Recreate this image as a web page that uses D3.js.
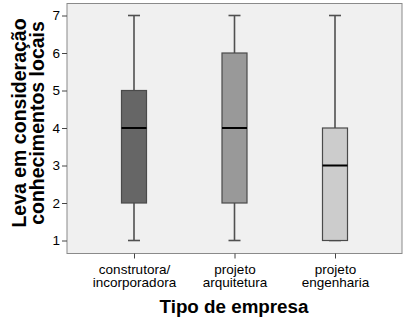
<!DOCTYPE html>
<html>
<head>
<meta charset="utf-8">
<script src="https://cdn.jsdelivr.net/npm/d3@7"></script>
<style>
  html, body { margin: 0; padding: 0; background: #fff; }
  svg { display: block; font-family: Arial, "Liberation Sans", sans-serif; }
</style>
</head>
<body>
<svg id="chart" width="407" height="325"></svg>
<script>
// Company types and their five-number summaries (1–7 scale)
const categories = ["construtora/\nincorporadora", "projeto\narquitetura", "projeto\nengenharia"];
const whiskerLow  = [1, 1, 1];
const quartile1   = [2, 2, 1];
const medians     = [4, 4, 3];
const quartile3   = [5, 6, 4];
const whiskerHigh = [7, 7, 7];
const boxFills    = ["#666666", "#999999", "#cccccc"];
const yTicks      = [1, 2, 3, 4, 5, 6, 7];

const svg = d3.select("#chart");
const frame = { left: 67, right: 402, top: 3.5, bottom: 253.5 };

const x = d3.scalePoint()
  .domain(categories)
  .range([134, 335]);

const y = d3.scaleLinear()
  .domain([1, 7])
  .range([240.5, 15.5]);

// Plot background
svg.append("rect")
  .attr("x", frame.left).attr("y", frame.top)
  .attr("width", frame.right - frame.left)
  .attr("height", frame.bottom - frame.top)
  .attr("fill", "#f0f0f0")
  .attr("stroke", "#8a8a8a")
  .attr("stroke-width", 1);

// Y axis
const yAxis = svg.append("g")
  .attr("transform", `translate(${frame.left},0)`)
  .call(d3.axisLeft(y).tickValues(yTicks).tickFormat(d3.format("d")).tickSize(5).tickPadding(2));
yAxis.select(".domain").remove();
yAxis.selectAll(".tick line").attr("stroke", "#444");
yAxis.selectAll(".tick text")
  .attr("fill", "#000")
  .style("font-size", "13.5px")
  .style("font-family", "Arial, 'Liberation Sans', sans-serif");

// X axis ticks with two-line labels
const xAxis = svg.append("g")
  .attr("transform", `translate(0,${frame.bottom})`)
  .call(d3.axisBottom(x).tickSize(5).tickFormat(""));
xAxis.select(".domain").remove();
xAxis.selectAll(".tick line").attr("stroke", "#444");
xAxis.selectAll(".tick").each(function (d) {
  const t = d3.select(this).append("text")
    .attr("fill", "#000")
    .attr("text-anchor", "middle")
    .style("font-size", "13.5px")
    .style("font-family", "Arial, 'Liberation Sans', sans-serif");
  d.split("\n").forEach((line, i) => {
    t.append("tspan").attr("x", 0).attr("y", 20 + i * 13.5).text(line);
  });
});

// Box plots
const boxW = 25, capW = 12;
const groups = svg.append("g").selectAll("g")
  .data(categories.map((c, i) => ({
    c, lo: whiskerLow[i], q1: quartile1[i], med: medians[i],
    q3: quartile3[i], hi: whiskerHigh[i], fill: boxFills[i]
  })))
  .join("g")
  .attr("transform", d => `translate(${x(d.c)},0)`);

// Whisker stems
groups.append("line")
  .attr("x1", 0).attr("x2", 0)
  .attr("y1", d => y(d.hi)).attr("y2", d => y(d.q3))
  .attr("stroke", "#505050").attr("stroke-width", 1.6);
groups.append("line")
  .attr("x1", 0).attr("x2", 0)
  .attr("y1", d => y(d.q1)).attr("y2", d => y(d.lo))
  .attr("stroke", "#505050").attr("stroke-width", 1.6);

// Whisker caps
groups.append("line")
  .attr("x1", -capW / 2).attr("x2", capW / 2)
  .attr("y1", d => y(d.hi)).attr("y2", d => y(d.hi))
  .attr("stroke", "#505050").attr("stroke-width", 1.6);
groups.append("line")
  .attr("x1", -capW / 2).attr("x2", capW / 2)
  .attr("y1", d => y(d.lo)).attr("y2", d => y(d.lo))
  .attr("stroke", "#505050").attr("stroke-width", 1.6);

// Boxes
groups.append("rect")
  .attr("x", -boxW / 2)
  .attr("y", d => y(d.q3))
  .attr("width", boxW)
  .attr("height", d => y(d.q1) - y(d.q3))
  .attr("fill", d => d.fill)
  .attr("stroke", "#4a4a4a")
  .attr("stroke-width", 1.2);

// Medians
groups.append("line")
  .attr("x1", -boxW / 2).attr("x2", boxW / 2)
  .attr("y1", d => y(d.med)).attr("y2", d => y(d.med))
  .attr("stroke", "#000").attr("stroke-width", 2);

// Axis titles
svg.append("text")
  .attr("x", 234).attr("y", 313)
  .attr("text-anchor", "middle")
  .attr("font-weight", "bold")
  .style("font-size", "18.8px")
  .text("Tipo de empresa");

const yTitle = svg.append("text")
  .attr("transform", "translate(0,123) rotate(-90)")
  .attr("text-anchor", "middle")
  .attr("font-weight", "bold")
  .style("font-size", "19.5px");
yTitle.append("tspan").attr("x", 0).attr("y", 26).text("Leva em consideração");
yTitle.append("tspan").attr("x", 0).attr("y", 43.5).text("conhecimentos locais");
</script>
</body>
</html>
